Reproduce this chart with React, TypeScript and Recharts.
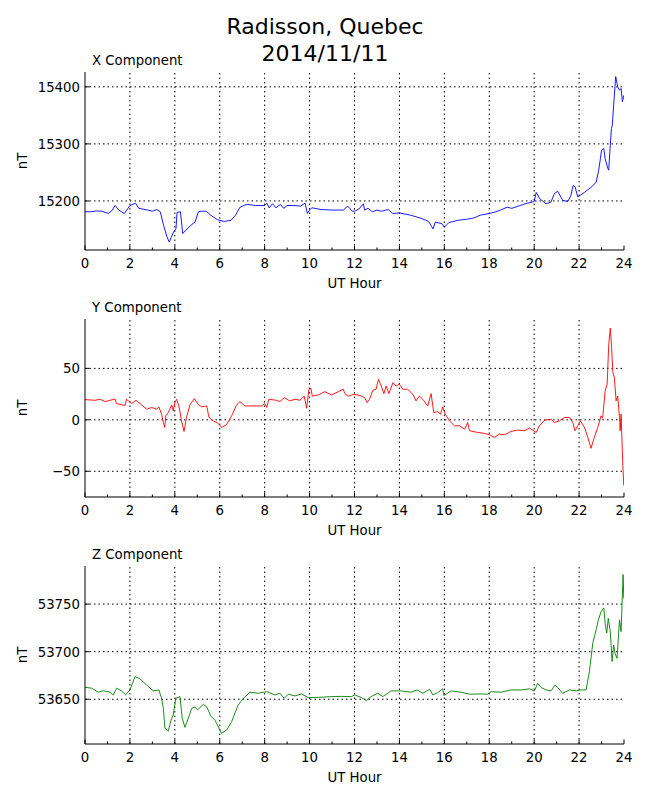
import React from 'react';
import { LineChart, Line, XAxis, YAxis, ReferenceLine } from 'recharts';

// X component (nT)
const xHours = [
  0, 0.25, 0.5, 0.75, 1.04, 1.2, 1.34, 1.5, 1.75, 2.0, 2.25, 2.4, 2.8, 3.0, 3.2, 3.35, 3.5, 3.65, 3.75, 3.85,
  3.95, 4.05, 4.1, 4.25, 4.35, 4.5, 4.7, 4.9, 5.05, 5.2, 5.4, 5.6, 5.9, 6.2, 6.5, 6.7, 6.9, 7.2, 7.6, 8.0,
  8.1, 8.2, 8.35, 8.5, 8.7, 8.85, 9.0, 9.3, 9.6, 9.8, 9.9, 10.0, 10.1, 10.5, 11.0, 11.5, 11.7, 11.9, 12.0, 12.2,
  12.4, 12.45, 12.6, 12.8, 13.0, 13.2, 13.5, 13.7, 14.0, 14.5, 15.0, 15.3, 15.5, 15.6, 15.9, 16.0, 16.2, 16.6, 17.0, 17.3,
  17.6, 18.0, 18.3, 18.5, 18.8, 19.0, 19.3, 19.6, 20.0, 20.09, 20.25, 20.52, 20.75, 20.9, 21.05, 21.27, 21.5, 21.64, 21.73, 21.82,
  21.94, 22.24, 22.6, 22.76, 22.86, 22.95, 23.0, 23.1, 23.16, 23.28, 23.32, 23.38, 23.44, 23.48, 23.54, 23.63, 23.72, 23.8, 23.87, 23.93,
  23.99,
];
const xValues = [
  15181, 15181, 15182.5, 15182, 15178, 15183, 15192, 15184, 15178, 15192, 15196, 15187, 15184, 15182, 15185, 15181, 15157, 15137, 15128, 15137,
  15146, 15151, 15180, 15181, 15143, 15149, 15157, 15163, 15181, 15182, 15182, 15175, 15167, 15164, 15166, 15175, 15189, 15194, 15192, 15192,
  15196, 15188, 15195, 15188, 15194, 15187, 15192, 15192, 15191, 15196, 15178, 15184, 15188, 15185, 15184, 15184, 15191, 15182, 15182, 15186,
  15195, 15184, 15187, 15181, 15184, 15182, 15185, 15178, 15179, 15175, 15169, 15164, 15151, 15163, 15160, 15154, 15162, 15166, 15168, 15170,
  15175, 15178, 15181, 15184, 15189, 15187, 15191, 15195, 15199, 15215, 15204, 15195, 15198, 15213, 15217, 15201, 15199, 15210, 15227, 15225,
  15207, 15215, 15226, 15233, 15251, 15274, 15289, 15292, 15274, 15257, 15254, 15292, 15327, 15333, 15368, 15418, 15400, 15394, 15397, 15374,
  15385,
];

// Y component (nT)
const yHours = [
  0, 0.45, 0.67, 0.9, 1.34, 1.4, 1.78, 1.85, 2.08, 2.27, 2.45, 2.75, 2.97, 3.19, 3.29, 3.41, 3.49, 3.55, 3.6, 3.71,
  3.86, 3.93, 4.0, 4.08, 4.18, 4.3, 4.41, 4.52, 4.67, 4.87, 5.04, 5.19, 5.42, 5.52, 5.71, 5.93, 6.08, 6.3, 6.53, 6.75,
  6.9, 7.12, 7.86, 8.01, 8.09, 8.19, 8.53, 8.68, 8.87, 9.12, 9.35, 9.57, 9.76, 9.87, 9.97, 10.06, 10.12, 10.39, 10.68, 10.98,
  11.28, 11.5, 11.57, 11.72, 11.87, 12.0, 12.3, 12.45, 12.56, 12.67, 12.82, 12.96, 13.07, 13.19, 13.31, 13.41, 13.53, 13.71, 13.85, 14.0,
  14.15, 14.37, 14.6, 14.74, 14.89, 15.04, 15.26, 15.41, 15.53, 15.71, 15.83, 15.93, 16.04, 16.23, 16.45, 16.67, 16.9, 17.04, 17.12, 17.49,
  17.79, 18.01, 18.23, 18.45, 18.68, 18.97, 19.27, 19.57, 19.79, 20.09, 20.23, 20.46, 20.75, 20.9, 21.12, 21.35, 21.57, 21.72, 21.82, 21.94,
  22.06, 22.24, 22.39, 22.53, 22.68, 22.83, 22.98, 23.05, 23.16, 23.25, 23.32, 23.39, 23.45, 23.5, 23.57, 23.65, 23.72, 23.8, 23.83, 23.87,
  23.94, 23.99,
];
const yValues = [
  19.7, 19, 20, 17.7, 20.3, 15.8, 13.9, 20, 15.8, 19, 15.8, 10.3, 12, 10.3, 12.6, 5.5, -2.6, -7.4, 3.9, 7,
  14.5, 8.7, 16.8, 20, 13.5, -1, -11.3, 2.3, 14.5, 20.6, 15, 12.6, 13.5, 2.3, -1, -3.5, -7.4, -4.8, 3.9, 14.5,
  17.7, 13.5, 13.5, 15.8, 12, 20, 19, 17.7, 21.6, 18.4, 20, 19, 23, 11.3, 29.7, 30.6, 23, 24.2, 27.4, 24.2,
  27.4, 29.7, 25.5, 22.9, 24.2, 24.8, 23.2, 21.6, 16.8, 20, 28.7, 29.7, 39.4, 32.9, 25.5, 32.9, 25.5, 36.1, 32.9, 34.5,
  29.7, 29.7, 24.8, 18.4, 23.2, 20, 13.5, 25.5, 7, 8, 5.5, 12.6, 5.5, -1, -5.8, -5.8, -9, -2.6, -10.6, -12.3,
  -13.2, -14.5, -17.1, -13.9, -14.5, -11.3, -10, -10.6, -8, -12.3, -5.8, -0.3, 0.6, -2.6, -1, 2.3, 2.3, -2.6, -10.6, -5.8,
  -1, -7.4, -17.1, -27.7, -17.1, -7.4, 3.9, 1.6, 28, 34.5, 73, 89, 70, 47, 41, 18.4, 23.2, 2.3, -10.6, 5.5,
  -39.7, -63.9,
];

// Z component (nT)
const zHours = [
  0, 0.3, 0.59, 0.82, 1.11, 1.26, 1.41, 1.63, 1.81, 2.0, 2.23, 2.45, 2.74, 3.04, 3.29, 3.41, 3.49, 3.56, 3.71, 3.83,
  3.93, 4.04, 4.23, 4.33, 4.45, 4.6, 4.75, 4.9, 5.01, 5.27, 5.42, 5.61, 5.79, 6.08, 6.31, 6.53, 6.82, 7.05, 7.34, 7.72,
  8.09, 8.46, 8.68, 8.87, 9.05, 9.35, 9.64, 9.94, 10.39, 10.98, 11.42, 11.87, 12.0, 12.3, 12.52, 12.74, 13.04, 13.26, 13.63, 14.08,
  14.52, 14.79, 15.04, 15.34, 15.49, 15.71, 15.93, 15.98, 16.3, 16.75, 17.12, 17.64, 17.93, 18.08, 18.53, 18.97, 19.42, 19.79, 20.01, 20.16,
  20.31, 20.53, 20.75, 20.93, 21.05, 21.27, 21.57, 21.87, 22.09, 22.31, 22.46, 22.61, 22.76, 22.86, 22.98, 23.1, 23.16, 23.23, 23.3, 23.39,
  23.47, 23.54, 23.6, 23.69, 23.8, 23.87, 23.96, 23.99,
];
const zValues = [
  53662.6, 53661.6, 53657.4, 53659, 53657.4, 53654.6, 53661.6, 53658.8, 53654.6, 53659.8, 53673.9, 53671.4, 53665, 53658.8, 53659.8, 53651, 53640.5, 53619.5, 53616.7, 53628,
  53633.5, 53651, 53652.8, 53630, 53620.5, 53630, 53640.5, 53642, 53638.8, 53644.7, 53642, 53632, 53628, 53614.2, 53617.7, 53626.5, 53644, 53651, 53657.4, 53656.3,
  53658, 53654.6, 53656.3, 53651, 53655.3, 53653.5, 53655.6, 53651.8, 53652, 53652.8, 53653, 53652.8, 53654.6, 53651.8, 53648.6, 53652.8, 53656.3, 53652.8, 53658.8, 53658.8,
  53657.4, 53659.8, 53656.3, 53660.5, 53654.6, 53657, 53661, 53653.9, 53658.8, 53657.4, 53655.3, 53655.6, 53655.3, 53658, 53657.4, 53659.8, 53659.8, 53661, 53658.8, 53666.8,
  53662.3, 53659.8, 53658.8, 53665, 53662.3, 53656.3, 53659.8, 53658.8, 53659.8, 53659.8, 53679, 53709, 53723, 53733.5, 53742, 53746, 53730, 53719.5, 53735, 53721,
  53689.6, 53707, 53698.4, 53693, 53733.5, 53721, 53781, 53756,
];

const hourTicks = Array.from({ length: 25 }, (_, i) => i);
const majorHours = [2, 4, 6, 8, 10, 12, 14, 16, 18, 20, 22];

const xTicks = [15200, 15300, 15400];
const yTicks = [-50, 0, 50];
const zTicks = [53650, 53700, 53750];

const FONT = '"DejaVu Sans", sans-serif';
const FS = 13.3;

const BottomTick = (props: any) => {
  const { x, y, payload } = props;
  const major = payload.value % 2 === 0;
  return (
    <g>
      <line x1={x} x2={x} y1={y} y2={y - (major ? 4.5 : 2.5)} stroke="#000" strokeWidth={1} />
      {major && (
        <text x={x} y={y + 18} textAnchor="middle" fontFamily={FONT} fontSize={FS} fill="#000">
          {payload.value}
        </text>
      )}
    </g>
  );
};

const TopTick = (props: any) => {
  const { x, y, payload } = props;
  const major = payload.value % 2 === 0;
  return <line x1={x} x2={x} y1={y} y2={y + (major ? 4.5 : 2.5)} stroke="#000" strokeWidth={1} />;
};

const LeftTick = (props: any) => {
  const { x, y, payload } = props;
  return (
    <g>
      <line x1={x} x2={x + 4.5} y1={y} y2={y} stroke="#000" strokeWidth={1} />
      <text x={x - 5} y={y + 5} textAnchor="end" fontFamily={FONT} fontSize={FS} fill="#000">
        {payload.value < 0 ? '\u2212' + Math.abs(payload.value) : payload.value}
      </text>
    </g>
  );
};

const RightTick = (props: any) => {
  const { x, y } = props;
  return <line x1={x} x2={x - 4.5} y1={y} y2={y} stroke="#000" strokeWidth={1} />;
};

type PanelProps = {
  top: number;
  title: string;
  hours: number[];
  values: number[];
  color: string;
  domain: [number, number];
  ticks: number[];
};

function Panel({ top, title, hours, values, color, domain, ticks }: PanelProps) {
  const data = hours.map((h, i) => ({ h, v: values[i] }));
  return (
    <div style={{ position: 'absolute', left: 0, top, width: 650, height: 300 }}>
      <LineChart width={650} height={300} data={data} margin={{ top: 72, right: 26, bottom: 20, left: 0 }}>
        <XAxis
          dataKey="h"
          type="number"
          domain={[0, 24]}
          ticks={hourTicks}
          interval={0}
          tickSize={0}
          tickMargin={0}
          tick={<BottomTick />}
          height={30}
          axisLine={{ stroke: '#000', strokeWidth: 1 }}
          tickLine={false}
          allowDataOverflow
        />
        <XAxis
          xAxisId="top"
          orientation="top"
          dataKey="h"
          type="number"
          domain={[0, 24]}
          ticks={hourTicks}
          interval={0}
          tickSize={0}
          tickMargin={0}
          tick={<TopTick />}
          height={0}
          axisLine={{ stroke: '#000', strokeWidth: 1 }}
          tickLine={false}
        />
        <YAxis
          type="number"
          domain={domain}
          ticks={ticks}
          interval={0}
          tickSize={0}
          tickMargin={0}
          tick={<LeftTick />}
          width={85}
          axisLine={{ stroke: '#000', strokeWidth: 1 }}
          tickLine={false}
          allowDataOverflow
        />
        <YAxis
          yAxisId="right"
          orientation="right"
          type="number"
          domain={domain}
          ticks={ticks}
          interval={0}
          tickSize={0}
          tickMargin={0}
          tick={<RightTick />}
          width={0}
          axisLine={{ stroke: '#000', strokeWidth: 1 }}
          tickLine={false}
          allowDataOverflow
        />
        {majorHours.map((h) => (
          <ReferenceLine key={'gx' + h} x={h} stroke="#000" strokeWidth={1} strokeDasharray="1.5 3" />
        ))}
        {ticks.map((t) => (
          <ReferenceLine key={'gy' + t} y={t} stroke="#000" strokeWidth={1} strokeDasharray="1.5 3" />
        ))}
        <Line
          type="linear"
          dataKey="v"
          stroke={color}
          strokeWidth={0.9}
          dot={false}
          activeDot={false}
          isAnimationActive={false}
        />
      </LineChart>
      <svg width={650} height={300} style={{ position: 'absolute', left: 0, top: 0, pointerEvents: 'none' }}>
        <text x={92} y={65} fontFamily={FONT} fontSize={FS} fill="#000">
          {title}
        </text>
        <text x={354.5} y={288} textAnchor="middle" fontFamily={FONT} fontSize={FS} fill="#000">
          UT Hour
        </text>
        <text
          x={27}
          y={161}
          textAnchor="middle"
          transform="rotate(-90 27 161)"
          fontFamily={FONT}
          fontSize={FS}
          fill="#000"
        >
          nT
        </text>
      </svg>
    </div>
  );
}

export default function App() {
  return (
    <div style={{ position: 'absolute', left: 0, top: 0, width: 650, height: 800, background: '#fff' }}>
      <svg width={650} height={70} style={{ position: 'absolute', left: 0, top: 0 }}>
        <text x={325} y={34} textAnchor="middle" fontFamily={FONT} fontSize={22} fill="#000">
          Radisson, Quebec
        </text>
        <text x={325} y={61} textAnchor="middle" fontFamily={FONT} fontSize={22} fill="#000">
          2014/11/11
        </text>
      </svg>
      <Panel top={0} title="X Component" hours={xHours} values={xValues} color="#0000ff" domain={[15114, 15426]} ticks={xTicks} />
      <Panel top={247} title="Y Component" hours={yHours} values={yValues} color="#ff0000" domain={[-75, 98]} ticks={yTicks} />
      <Panel top={494} title="Z Component" hours={zHours} values={zValues} color="#008000" domain={[53603, 53790]} ticks={zTicks} />
    </div>
  );
}
